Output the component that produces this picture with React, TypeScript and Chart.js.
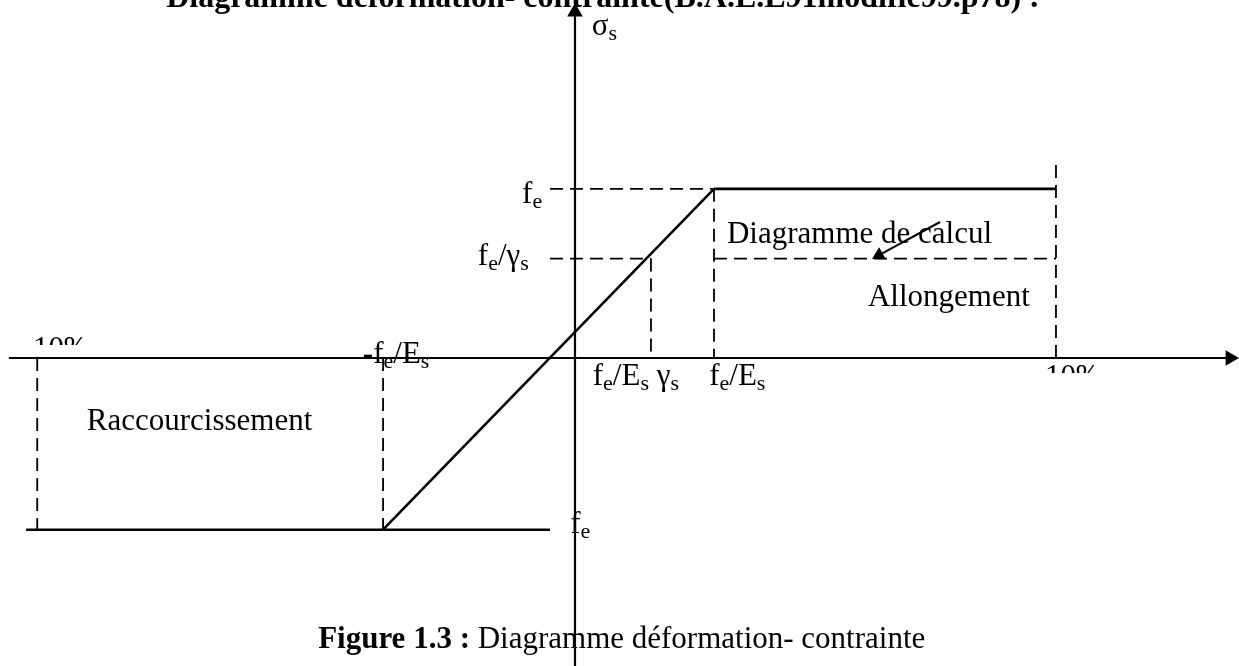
import { useEffect, useRef } from "react";
import { Chart, registerables } from "chart.js";

Chart.register(...registerables);

// ---- Data (diagram units; origin = axes crossing) ----
// strain positions
const strainLeftLimit = -11.18; // -10‰ (raccourcissement)
const strainMinusYield = -3.99; // -fe/Es
const strainYieldGamma = 1.58; // fe/(Es·γs)
const strainYield = 2.89; // fe/Es
const strainRightLimit = 10.0; // +10‰ (allongement)
// stress levels
const stressFe = 9.95; // fe
const stressFeGamma = 5.85; // fe/γs
const stressMinusFe = -10.1; // -fe

const xAxisLine = [
  { x: -11.77, y: 0 },
  { x: 13.62, y: 0 },
];
const yAxisLine = [
  { x: 0, y: -18.12 },
  { x: 0, y: 20.35 },
];
const lowerPlateau = [
  { x: -11.41, y: stressMinusFe },
  { x: -0.52, y: stressMinusFe },
];
const elasticSlope = [
  { x: strainMinusYield, y: stressMinusFe },
  { x: strainYield, y: stressFe },
];
const upperPlateau = [
  { x: strainYield, y: stressFe },
  { x: strainRightLimit, y: stressFe },
];
const guideFe = [
  { x: -0.52, y: stressFe },
  { x: strainYield, y: stressFe },
];
const guideFeGamma = [
  { x: -0.52, y: stressFeGamma },
  { x: strainYieldGamma, y: stressFeGamma },
];
const vertFeGamma = [
  { x: strainYieldGamma, y: stressFeGamma },
  { x: strainYieldGamma, y: 0 },
];
const vertFe = [
  { x: strainYield, y: stressFe },
  { x: strainYield, y: 0 },
];
const calcLine = [
  { x: strainYield, y: stressFeGamma },
  { x: strainRightLimit, y: stressFeGamma },
];
const vertRight = [
  { x: strainRightLimit, y: 11.35 },
  { x: strainRightLimit, y: 0 },
];
const vertLeft = [
  { x: strainLeftLimit, y: 0 },
  { x: strainLeftLimit, y: -10.4 },
];
const vertMinusYield = [
  { x: strainMinusYield, y: 0 },
  { x: strainMinusYield, y: stressMinusFe },
];
const pointerArrow = [
  { x: 7.59, y: 8.0 },
  { x: 6.32, y: 6.05 },
];

// ---- Text ----
type Part = { t: string; sub?: boolean; bold?: boolean };
type Label = { x: number; y: number; size: number; parts: Part[]; cut?: number };

const FONT = '"Liberation Serif", "Times New Roman", serif';
const MAIN = 31;
const SUB = 22;
const SUB_DROP = 5;

const labels: Label[] = [
  {
    x: -8.5,
    y: 20.65,
    size: 32,
    parts: [{ t: "Diagramme déformation- contrainte(B.A.E.L91modifié99.p78) :", bold: true }],
  },
  { x: 0.35, y: 19.0, size: MAIN, parts: [{ t: "σ" }, { t: "s", sub: true }] },
  { x: -1.1, y: 9.12, size: MAIN, parts: [{ t: "f" }, { t: "e", sub: true }] },
  {
    x: -2.02,
    y: 5.47,
    size: MAIN,
    parts: [{ t: "f" }, { t: "e", sub: true }, { t: "/γ" }, { t: "s", sub: true }],
  },
  { x: -11.27, y: 0.0, size: MAIN, parts: [{ t: "10‰" }], cut: 13 },
  {
    x: -4.41,
    y: -0.29,
    size: MAIN,
    parts: [{ t: "-f" }, { t: "e", sub: true }, { t: "/E" }, { t: "s", sub: true }],
  },
  { x: -10.15, y: -4.24, size: MAIN, parts: [{ t: "Raccourcissement" }] },
  {
    x: 0.37,
    y: -1.59,
    size: MAIN,
    parts: [
      { t: "f" },
      { t: "e", sub: true },
      { t: "/E" },
      { t: "s", sub: true },
      { t: " γ" },
      { t: "s", sub: true },
    ],
  },
  {
    x: 2.79,
    y: -1.59,
    size: MAIN,
    parts: [{ t: "f" }, { t: "e", sub: true }, { t: "/E" }, { t: "s", sub: true }],
  },
  { x: 9.77, y: -1.65, size: MAIN, parts: [{ t: "10‰" }], cut: 13 },
  { x: 3.16, y: 6.76, size: MAIN, parts: [{ t: "Diagramme de calcul" }] },
  { x: 6.09, y: 3.06, size: MAIN, parts: [{ t: "Allongement" }] },
  { x: -0.1, y: -10.29, size: MAIN, parts: [{ t: "f" }, { t: "e", sub: true }] },
  {
    x: -5.34,
    y: -17.06,
    size: MAIN,
    parts: [{ t: "Figure 1.3 :", bold: true }, { t: " Diagramme déformation- contrainte" }],
  },
];

const textPlugin = {
  id: "diagramText",
  afterDatasetsDraw(chart: any) {
    const ctx: CanvasRenderingContext2D = chart.ctx;
    const xs = chart.scales.x;
    const ys = chart.scales.y;
    ctx.save();
    ctx.fillStyle = "#000";
    ctx.textAlign = "left";
    ctx.textBaseline = "alphabetic";
    for (const lb of labels) {
      let px = xs.getPixelForValue(lb.x);
      const py = ys.getPixelForValue(lb.y);
      ctx.save();
      if (lb.cut != null) {
        ctx.beginPath();
        ctx.rect(0, 0, chart.width, py - lb.cut);
        ctx.clip();
      }
      for (const p of lb.parts) {
        const size = p.sub ? SUB : lb.size;
        ctx.font = `${p.bold ? "bold " : ""}${size}px ${FONT}`;
        ctx.fillText(p.t, px, py + (p.sub ? SUB_DROP : 0));
        px += ctx.measureText(p.t).width;
      }
      ctx.restore();
    }
    ctx.restore();
  },
};

function seg(data: { x: number; y: number }[], width: number, dashed: boolean, extra: any = {}) {
  return {
    data,
    showLine: true,
    borderColor: "#000",
    backgroundColor: "#000",
    borderWidth: width,
    borderDash: dashed ? [13, 7] : [],
    pointRadius: 0,
    pointHoverRadius: 0,
    clip: false,
    ...extra,
  };
}

function arrowEnd(rotation: number, radius: number) {
  return {
    pointRadius: [0, radius],
    pointHoverRadius: [0, radius],
    pointStyle: "triangle",
    pointRotation: [0, rotation],
    pointBackgroundColor: "#000",
    pointBorderColor: "#000",
    pointBorderWidth: 0,
  };
}

export default function App() {
  const ref = useRef<HTMLCanvasElement>(null);

  useEffect(() => {
    document.body.style.margin = "0";
    const chart = new Chart(ref.current as HTMLCanvasElement, {
      type: "scatter",
      data: {
        datasets: [
          seg(xAxisLine, 2.2, false, arrowEnd(90, 9)),
          seg(yAxisLine, 2.2, false, arrowEnd(0, 9)),
          seg(lowerPlateau, 2.6, false),
          seg(elasticSlope, 2.6, false),
          seg(upperPlateau, 2.8, false),
          seg(guideFe, 1.8, true),
          seg(guideFeGamma, 1.8, true),
          seg(vertFeGamma, 1.8, true),
          seg(vertFe, 1.8, true),
          seg(calcLine, 1.8, true),
          seg(vertRight, 1.8, true),
          seg(vertLeft, 1.8, true),
          seg(vertMinusYield, 1.8, true),
          seg(pointerArrow, 2, false, arrowEnd(241, 8)),
        ] as any,
      },
      options: {
        responsive: false,
        animation: false,
        devicePixelRatio: 1,
        events: [],
        layout: { padding: 0, autoPadding: false },
        plugins: {
          legend: { display: false },
          tooltip: { enabled: false },
          title: { display: false },
        },
        scales: {
          x: { type: "linear", min: -11.954, max: 13.805, display: false },
          y: { type: "linear", min: -18.118, max: 21.059, display: false },
        },
      },
      plugins: [textPlugin],
    });
    return () => chart.destroy();
  }, []);

  return (
    <div
      style={{
        position: "fixed",
        left: 0,
        top: 0,
        width: 1239,
        height: 666,
        background: "#fff",
      }}
    >
      <canvas ref={ref} width={1239} height={666} style={{ display: "block" }} />
    </div>
  );
}
